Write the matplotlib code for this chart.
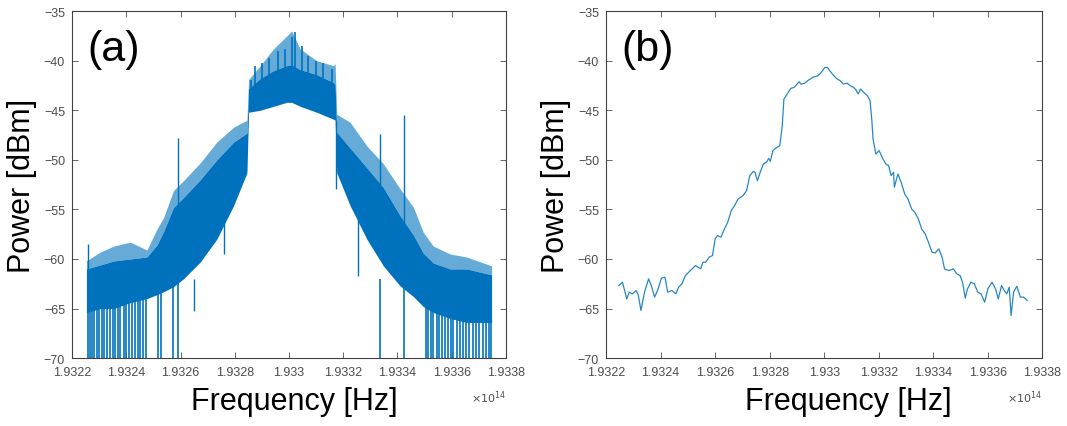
"""Optical spectrum of the modulated signal: (a) raw trace, (b) smoothed trace."""

import matplotlib
matplotlib.use("Agg")
import matplotlib.pyplot as plt

plt.rcParams["font.family"] = ["Liberation Sans", "DejaVu Sans"]

BLUE = "#0072BD"

env_freq = [1.932253, 1.932304, 1.932354, 1.932415, 1.932476, 1.932513, 1.932538,
            1.932574, 1.932611, 1.932673, 1.932734, 1.932796, 1.932845, 1.932851,
            1.932894, 1.932943, 1.932992, 1.933010, 1.933041, 1.933102, 1.933164,
            1.933170, 1.933176, 1.933225, 1.933287, 1.933348, 1.933409, 1.933459,
            1.933495, 1.933532, 1.933594, 1.933655, 1.933747]
env_top = [-60.2, -59.3, -58.7, -58.3, -59.1, -57.0, -55.8,
           -53.1, -52.1, -50.3, -48.2, -46.7, -46.0, -41.9,
           -40.5, -38.8, -37.5, -37.0, -38.8, -40.0, -40.5,
           -40.3, -45.4, -46.2, -48.6, -50.4, -52.9, -54.8,
           -57.3, -58.7, -59.5, -59.8, -60.7]
env_core = [-61.0, -60.6, -60.2, -60.0, -59.8, -58.6, -57.2,
            -54.8, -53.8, -52.0, -50.0, -48.2, -47.3, -42.8,
            -41.8, -41.0, -40.5, -40.4, -40.9, -41.4, -42.2,
            -42.4, -47.2, -48.8, -50.8, -52.8, -55.6, -57.6,
            -59.4, -60.4, -61.0, -61.0, -61.6]
env_bot = [-65.4, -65.0, -65.0, -64.4, -64.0, -63.6, -63.3,
           -62.8, -62.0, -60.3, -58.0, -54.6, -51.3, -45.2,
           -45.0, -44.6, -44.2, -44.2, -44.6, -45.2, -45.9,
           -46.0, -51.3, -54.6, -58.0, -60.7, -62.7, -63.8,
           -64.8, -65.4, -66.0, -66.4, -66.4]

# comb lines sticking out of the top of the plateau
comb_freq = [1.932859, 1.932875, 1.932899, 1.932927, 1.932958, 1.932985,
             1.933010, 1.933022, 1.933047, 1.933071, 1.933100, 1.933127, 1.933157]
comb_top = [-41.9, -40.5, -40.2, -39.7, -39.0, -38.8,
            -37.6, -37.1, -38.5, -39.5, -40.0, -40.2, -40.8]

# narrow lines that drop to the bottom of the plot
dip_freq = [1.932258, 1.932265, 1.932274, 1.932282, 1.932292, 1.932299, 1.932311,
            1.932319, 1.932329, 1.932341, 1.932351, 1.932360, 1.932368, 1.932378,
            1.932390, 1.932400, 1.932409, 1.932421, 1.932433, 1.932442, 1.932452,
            1.932462, 1.932471, 1.932516, 1.932528, 1.932572, 1.932592,
            1.933336, 1.933425, 1.933505, 1.933514, 1.933522, 1.933532, 1.933544,
            1.933554, 1.933563, 1.933575, 1.933587, 1.933596, 1.933606, 1.933618,
            1.933630, 1.933643, 1.933653, 1.933665, 1.933677, 1.933689, 1.933702,
            1.933714, 1.933726, 1.933739, 1.933746]

# isolated spikes (upper end, lower end)
spike_freq = [1.932258, 1.932592, 1.933336, 1.933425, 1.932648, 1.932762, 1.933256, 1.933172]
spike_hi = [-58.5, -47.8, -47.4, -45.5, -62.0, -55.0, -56.0, -46.0]
spike_lo = [-62.0, -56.0, -56.0, -58.0, -65.2, -59.5, -61.7, -52.9]

# ---- (b) smoothed trace
smooth_freq = [1.932247, 1.932260, 1.932276, 1.932285, 1.932297, 1.932310, 1.932318,
               1.932328, 1.932341, 1.932356, 1.932366, 1.932378, 1.932391, 1.932403,
               1.932416, 1.932426, 1.932441, 1.932456, 1.932466, 1.932478, 1.932491,
               1.932509, 1.932528, 1.932547, 1.932555, 1.932565, 1.932578, 1.932590,
               1.932600, 1.932609, 1.932621, 1.932634, 1.932646, 1.932659, 1.932671,
               1.932684, 1.932702, 1.932715, 1.932727, 1.932740, 1.932746, 1.932755,
               1.932765, 1.932777, 1.932790, 1.932796, 1.932802, 1.932812, 1.932821,
               1.932837, 1.932846, 1.932852, 1.932862, 1.932877, 1.932890, 1.932900,
               1.932908, 1.932914, 1.932927, 1.932939, 1.932958, 1.932977, 1.932989,
               1.933002, 1.933012, 1.933020, 1.933033, 1.933045, 1.933058, 1.933070,
               1.933083, 1.933095, 1.933108, 1.933116, 1.933124, 1.933133, 1.933145,
               1.933158, 1.933168, 1.933174, 1.933179, 1.933189, 1.933201, 1.933214,
               1.933226, 1.933236, 1.933245, 1.933254, 1.933257, 1.933270, 1.933282,
               1.933295, 1.933307, 1.933320, 1.933332, 1.933345, 1.933357, 1.933370,
               1.933382, 1.933395, 1.933407, 1.933420, 1.933432, 1.933441, 1.933457,
               1.933473, 1.933486, 1.933498, 1.933507, 1.933517, 1.933525, 1.933538,
               1.933550, 1.933563, 1.933575, 1.933588, 1.933600, 1.933615, 1.933628,
               1.933638, 1.933650, 1.933660, 1.933669, 1.933678, 1.933685, 1.933694,
               1.933706, 1.933719, 1.933731, 1.933744]
smooth_power = [-62.68, -62.34, -64.02, -63.35, -63.52, -63.18, -63.62,
                -65.20, -63.35, -62.01, -62.68, -63.85, -63.01, -61.94,
                -61.84, -63.35, -63.18, -63.52, -62.85, -62.51, -61.67,
                -61.17, -60.66, -61.00, -60.33, -60.33, -59.82, -59.66,
                -57.98, -57.64, -57.81, -56.97, -56.30, -55.12, -54.62,
                -53.95, -53.61, -53.11, -51.59, -51.16, -51.26, -52.10,
                -51.26, -50.42, -50.18, -49.85, -50.15, -49.07, -48.84,
                -48.57, -46.56, -43.87, -43.46, -42.79, -42.69, -42.36,
                -42.12, -42.36, -42.29, -42.02, -41.68, -41.52, -41.18,
                -40.68, -40.68, -41.01, -41.45, -41.79, -42.02, -42.36,
                -42.26, -42.52, -42.69, -42.93, -43.36, -42.86, -43.20,
                -43.53, -44.04, -45.88, -47.90, -49.41, -49.07, -49.85,
                -50.42, -50.59, -51.59, -51.26, -52.77, -51.43, -52.27,
                -53.44, -53.95, -54.95, -55.29, -55.96, -56.97, -57.47,
                -58.31, -59.32, -59.39, -58.98, -59.82, -61.00, -61.17,
                -61.00, -61.50, -61.67, -62.34, -63.96, -63.01, -62.34,
                -62.51, -63.35, -63.52, -64.36, -63.01, -62.34, -63.01,
                -64.02, -62.68, -63.18, -63.52, -62.85, -65.70, -63.35,
                -62.75, -63.85, -63.85, -64.19]

x_ticks = [1.9322, 1.9324, 1.9326, 1.9328, 1.933, 1.9332, 1.9334, 1.9336, 1.9338]
y_ticks = [-70, -65, -60, -55, -50, -45, -40, -35]


def style_axes(ax, tag, xlabel_x):
    ax.set_xlim(1.9322, 1.9338)
    ax.set_ylim(-70, -35)
    ax.set_xticks(x_ticks)
    ax.set_xticklabels([f"{t:g}" for t in x_ticks])
    ax.set_yticks(y_ticks)
    ax.tick_params(direction="in", top=True, right=True, length=4, width=0.6,
                   labelsize=9, colors="#4d4d4d")
    ax.tick_params(axis="x", pad=6)
    ax.tick_params(axis="y", pad=5)
    for sp in ax.spines.values():
        sp.set_color("#404040")
        sp.set_linewidth(0.8)
    ax.set_xlabel("Frequency [Hz]", fontsize=22)
    ax.xaxis.set_label_coords(xlabel_x, -0.08, transform=ax.transAxes)
    ax.xaxis.label.set_va("top")
    ax.set_ylabel("Power [dBm]", fontsize=22, labelpad=5)
    ax.text(0.035, 0.89, tag, transform=ax.transAxes, fontsize=31,
            ha="left", va="center")
    ax.text(1.0, -0.11, r"$\times 10^{14}$", transform=ax.transAxes, fontsize=8,
            ha="right", va="center", color="#4d4d4d")


fig = plt.figure(figsize=(10.67, 4.27), dpi=100)
ax_a = fig.add_axes([0.0675, 0.159, 0.4067, 0.8126])
ax_b = fig.add_axes([0.568, 0.159, 0.4090, 0.8126])

# (a)
ax_a.fill_between(env_freq, env_core, env_top, color=BLUE, alpha=0.6, lw=0)
ax_a.fill_between(env_freq, env_bot, env_core, color=BLUE, lw=0)
ax_a.vlines(comb_freq, -43, comb_top, color=BLUE, lw=1.2)
ax_a.vlines(dip_freq, -70, -62, color=BLUE, lw=1.4, alpha=0.85)
ax_a.vlines(spike_freq, spike_lo, spike_hi, color=BLUE, lw=1.0)
style_axes(ax_a, "(a)", 0.512)

# (b)
ax_b.plot(smooth_freq, smooth_power, color=BLUE, lw=0.9, alpha=0.85)
style_axes(ax_b, "(b)", 0.555)

fig.savefig("out.png", dpi=100)
